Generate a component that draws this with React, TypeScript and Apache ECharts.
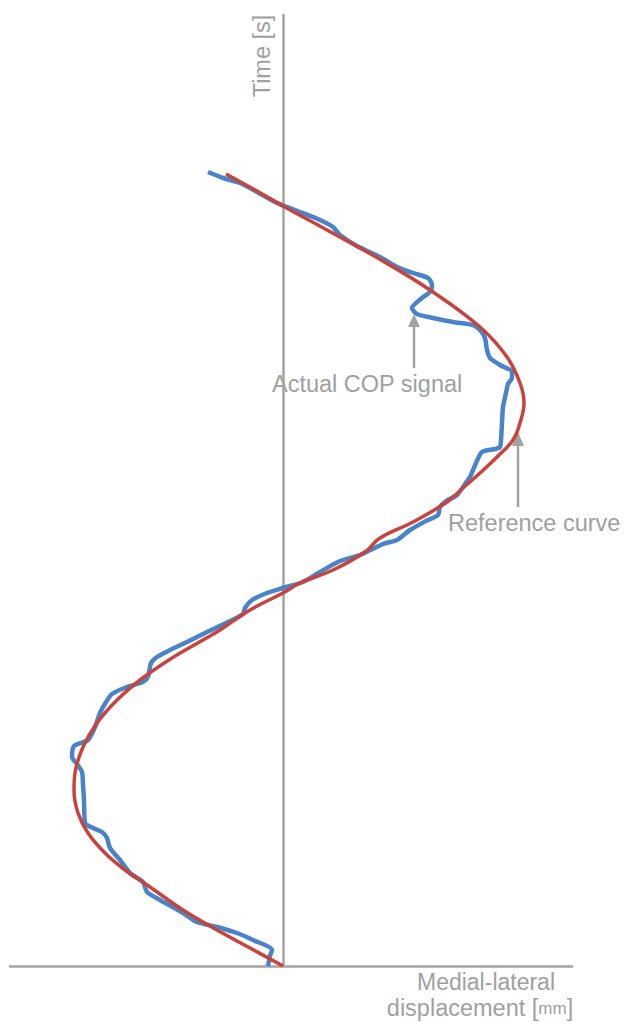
import React, { useEffect, useRef } from "react";
import * as echarts from "echarts";

// Reference curve: medial-lateral displacement [mm] against time [s]
const refTime = [0.0, 1.8, 3.6, 5.6, 7.9, 9.6, 11.3, 13.3, 15.3, 17.6, 19.3, 21.9, 24.3, 26.6, 28.6, 30.8, 32.6, 33.6, 35.6, 37.3, 38.3, 39.6, 41.4, 42.8, 44.4, 46.4, 47.8, 49.3, 50.9, 52.6, 54.3, 56.3, 58.3, 60.9, 63.9, 67.6, 70.9, 73.6, 76.0, 77.6, 79.2];
const refDisp = [0.0, -3.3, -6.6, -10.0, -13.3, -15.8, -17.8, -19.5, -20.5, -20.9, -20.8, -20.0, -18.6, -16.6, -14.3, -11.1, -8.0, -6.3, -3.3, 0.0, 1.7, 5.0, 8.2, 9.7, 13.0, 16.4, 18.0, 19.7, 21.4, 23.0, 23.7, 24.1, 23.7, 22.4, 19.7, 14.7, 9.3, 4.4, 0.0, -2.8, -5.7];

// Actual COP signal
const copTime = [0.0, 1.0, 1.6, 2.6, 3.3, 3.9, 4.4, 5.3, 6.6, 7.4, 8.4, 9.3, 10.6, 11.8, 12.8, 13.4, 13.8, 14.3, 16.6, 18.1, 19.4, 20.2, 20.9, 22.0, 22.6, 23.9, 25.3, 26.4, 27.2, 27.9, 28.4, 28.9, 30.3, 30.9, 31.6, 32.4, 33.4, 34.4, 35.2, 35.8, 36.6, 37.3, 37.8, 38.4, 39.4, 40.5, 41.1, 42.2, 42.6, 43.6, 44.5, 45.1, 45.9, 46.5, 47.1, 48.2, 48.9, 50.3, 51.4, 51.7, 51.9, 52.6, 54.3, 55.9, 57.3, 58.2, 58.8, 59.4, 60.1, 60.8, 61.6, 62.8, 63.6, 64.1, 64.4, 64.8, 65.2, 65.8, 66.8, 67.4, 68.1, 68.8, 69.3, 69.9, 70.9, 72.0, 73.1, 73.9, 74.6, 75.4, 75.8, 76.3, 77.4, 78.3, 78.8, 79.4];
const copDisp = [-1.5, -1.3, -1.1, -3.0, -4.6, -6.6, -8.6, -10.0, -12.3, -13.6, -14.0, -15.3, -16.3, -17.3, -17.6, -18.1, -19.0, -19.8, -19.9, -20.0, -20.1, -20.6, -21.1, -20.9, -19.5, -18.8, -18.3, -17.7, -17.1, -15.6, -14.0, -13.5, -13.2, -12.6, -11.3, -9.6, -7.6, -5.5, -4.0, -3.8, -3.1, -1.6, 0.0, 2.0, 3.7, 5.7, 7.7, 10.0, 11.4, 12.7, 14.3, 15.5, 15.7, 16.3, 17.4, 18.2, 18.7, 19.3, 19.9, 21.2, 21.7, 21.8, 21.9, 22.0, 22.3, 22.5, 22.9, 22.9, 21.7, 20.7, 20.4, 20.2, 19.7, 19.0, 17.0, 15.0, 13.4, 12.9, 13.9, 14.7, 14.9, 14.5, 13.0, 11.4, 9.7, 7.4, 5.7, 5.0, 3.7, 1.7, 0.7, -0.6, -2.6, -4.3, -6.0, -7.5];

const dispMin = -27.3;
const dispMax = 28.9;
const timeMin = 0;
const timeMax = 95.1;

const GRAY = "#a3a3a3";
const TEXT_GRAY = "#a0a0a0";
const FONT = "'Liberation Sans', Arial, sans-serif";

export default function App() {
  const ref = useRef<HTMLDivElement>(null);

  useEffect(() => {
    if (!ref.current) return;
    const chart = echarts.init(ref.current, null, { renderer: "svg" });
    const refData = refTime.map((t, i) => [refDisp[i], t]);
    const copData = copTime.map((t, i) => [copDisp[i], t]);

    chart.setOption({
      animation: false,
      backgroundColor: "#ffffff",
      grid: { left: 10, right: 55, top: 15, bottom: 57 },
      xAxis: {
        type: "value",
        min: dispMin,
        max: dispMax,
        axisLine: { show: true, onZero: true, lineStyle: { color: GRAY, width: 2.5 } },
        axisTick: { show: false },
        axisLabel: { show: false },
        splitLine: { show: false },
      },
      yAxis: {
        type: "value",
        min: timeMin,
        max: timeMax,
        axisLine: { show: true, onZero: true, lineStyle: { color: GRAY, width: 2.5 } },
        axisTick: { show: false },
        axisLabel: { show: false },
        splitLine: { show: false },
      },
      series: [
        {
          name: "Actual COP signal",
          type: "line",
          data: copData,
          showSymbol: false,
          symbol: "none",
          smooth: 0.25,
          lineStyle: { color: "#4a84c8", width: 4.5 },
          z: 2,
        },
        {
          name: "Reference curve",
          type: "line",
          data: refData,
          showSymbol: false,
          symbol: "none",
          smooth: 0.4,
          lineStyle: { color: "#c9423b", width: 3.5 },
          z: 3,
        },
      ],
      graphic: [
        {
          type: "text",
          x: 262,
          y: 56,
          rotation: Math.PI / 2,
          style: {
            text: "Time [s]",
            font: `23.5px ${FONT}`,
            fill: TEXT_GRAY,
            align: "center",
            verticalAlign: "middle",
          },
        },
        {
          type: "text",
          x: 486,
          y: 982,
          style: {
            text: "Medial-lateral",
            font: `23px ${FONT}`,
            fill: TEXT_GRAY,
            align: "center",
            verticalAlign: "middle",
          },
        },
        {
          type: "text",
          x: 480,
          y: 1008,
          style: {
            text: "{a|displacement [}{b|mm}{a|]}",
            fill: TEXT_GRAY,
            align: "center",
            verticalAlign: "middle",
            rich: {
              a: { fontSize: 23.5, fontFamily: FONT, fill: TEXT_GRAY, color: TEXT_GRAY },
              b: { fontSize: 17, fontFamily: FONT, fill: TEXT_GRAY, color: TEXT_GRAY },
            },
          },
        },
        {
          type: "line",
          shape: { x1: 414, y1: 368, x2: 414, y2: 325 },
          style: { stroke: GRAY, lineWidth: 2.5 },
        },
        {
          type: "polygon",
          shape: { points: [[414, 314], [408, 327], [420, 327]] },
          style: { fill: GRAY },
        },
        {
          type: "text",
          x: 272,
          y: 384,
          style: {
            text: "Actual COP signal",
            font: `23.5px ${FONT}`,
            fill: TEXT_GRAY,
            align: "left",
            verticalAlign: "middle",
          },
        },
        {
          type: "line",
          shape: { x1: 518, y1: 507, x2: 518, y2: 444 },
          style: { stroke: GRAY, lineWidth: 2.5 },
        },
        {
          type: "polygon",
          shape: { points: [[518, 432], [512, 446], [524, 446]] },
          style: { fill: GRAY },
        },
        {
          type: "text",
          x: 448,
          y: 523,
          style: {
            text: "Reference curve",
            font: `23.5px ${FONT}`,
            fill: TEXT_GRAY,
            align: "left",
            verticalAlign: "middle",
          },
        },
      ],
    });

    return () => chart.dispose();
  }, []);

  return (
    <div
      ref={ref}
      style={{ position: "fixed", left: 0, top: 0, width: 627, height: 1023, background: "#ffffff" }}
    />
  );
}
